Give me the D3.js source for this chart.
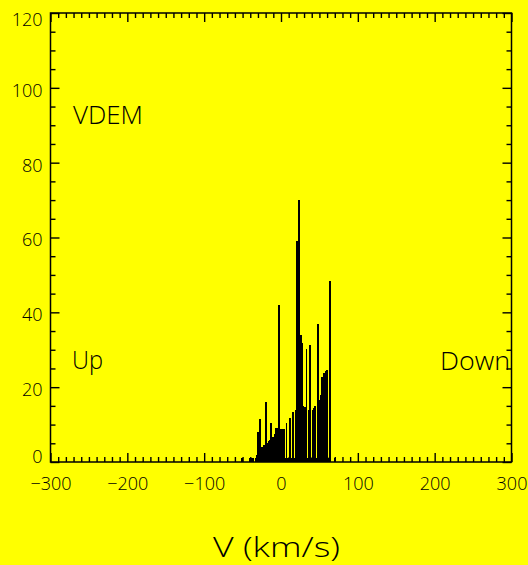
<!DOCTYPE html>
<html>
<head>
<meta charset="utf-8">
<script src="https://cdn.jsdelivr.net/npm/d3@7"></script>
<style>
  html, body { margin: 0; padding: 0; background: #ffff00; }
  svg { display: block; }
</style>
</head>
<body>
<script>
// Velocity axis (km/s) and count axis ticks
const velocityTicks = [-300, -200, -100, 0, 100, 200, 300];
const velocityMinorStep = 10;
const countTicks = [0, 20, 40, 60, 80, 100, 120];
const countMinorStep = 5;

// Velocity differential emission measure, one value per 1.3 km/s bin
const binStart = -53.3;   // left edge of the first bin, km/s
const binWidth = 1.3;     // km/s
const counts = [
  0, 1, 1, 0, 0, 0, 0, 0, 0, 1,
  1, 1, 1, 1, 0, 1, 2, 8, 8, 11.5,
  11.5, 4, 4, 4.5, 4.5, 16, 16, 5, 5.5, 6,
  10.5, 10.5, 6.8, 6.8, 7.5, 9, 9, 9, 42, 42,
  8.7, 8.7, 8.7, 8.7, 8.7, 1, 10.5, 1, 1, 11.8,
  11.8, 1, 13.4, 13.4, 1, 14, 59, 59, 70, 70,
  34, 34, 31.7, 15, 14.8, 14.8, 30.2, 1, 14, 31.2,
  31.2, 1, 13.9, 14.5, 15, 15, 1, 37, 37, 16.6,
  18, 22.8, 22.8, 23.9, 23.9, 24.2, 24.6, 24.6, 1, 48.4,
  48.4, 0, 0, 0, 1, 0
];

// Annotations inside the plot
const panelTitle = "VDEM";
const leftNote = "Up";
const rightNote = "Down";
const xTitle = "V (km/s)";

const W = 528, H = 565;
const FONT = "'Open Sans', 'Liberation Sans', Arial, sans-serif";
const WEIGHT = 300;

const svg = d3.select("body").append("svg")
  .attr("width", W).attr("height", H)
  .style("background", "#ffff00");

const x = d3.scaleLinear().domain([-300, 300]).range([50.5, 511.5]);
const y = d3.scaleLinear().domain([0, 120]).range([462, 13]);

// Histogram bins
const bins = counts.map((c, i) => ({ v0: binStart + i * binWidth, v1: binStart + (i + 1) * binWidth, c }));
svg.append("g")
  .attr("shape-rendering", "crispEdges")
  .selectAll("rect")
  .data(bins.filter(d => d.c > 0))
  .join("rect")
  .attr("x", d => x(d.v0))
  .attr("width", d => x(d.v1) - x(d.v0))
  .attr("y", d => y(d.c))
  .attr("height", d => y(0) - y(d.c))
  .attr("fill", "#000");

// Minor tick values
const xMinor = d3.range(-300, 300 + 1e-9, velocityMinorStep).filter(v => !velocityTicks.includes(v));
const yMinor = d3.range(0, 120 + 1e-9, countMinorStep).filter(v => !countTicks.includes(v));

function styleAxis(g) {
  g.select(".domain").remove();
  g.selectAll(".tick line").attr("stroke", "#000").attr("stroke-width", 1.4);
  g.selectAll("text").attr("fill", "#000").attr("font-family", FONT)
    .attr("font-weight", WEIGHT).attr("font-size", 18);
}

const MAJ = 9, MIN = 5;

// Bottom axis
svg.append("g").attr("transform", `translate(0,${y(0)})`)
  .call(d3.axisBottom(x).tickValues(xMinor).tickSize(-MIN).tickSizeOuter(0).tickFormat(""))
  .call(styleAxis);
svg.append("g").attr("transform", `translate(0,${y(0)})`)
  .call(d3.axisBottom(x).tickValues(velocityTicks).tickSize(-MAJ).tickSizeOuter(0).tickPadding(15)
        .tickFormat(d3.format("d")))
  .call(styleAxis);

// Top axis
svg.append("g").attr("transform", `translate(0,${y(120)})`)
  .call(d3.axisTop(x).tickValues(xMinor).tickSize(-MIN).tickSizeOuter(0).tickFormat(""))
  .call(styleAxis);
svg.append("g").attr("transform", `translate(0,${y(120)})`)
  .call(d3.axisTop(x).tickValues(velocityTicks).tickSize(-MAJ).tickSizeOuter(0).tickFormat(""))
  .call(styleAxis);

// Left axis
svg.append("g").attr("transform", `translate(${x(-300)},0)`)
  .call(d3.axisLeft(y).tickValues(yMinor).tickSize(-MIN).tickSizeOuter(0).tickFormat(""))
  .call(styleAxis);
const yl = svg.append("g").attr("transform", `translate(${x(-300)},0)`)
  .call(d3.axisLeft(y).tickValues(countTicks).tickSize(-MAJ).tickSizeOuter(0).tickPadding(8)
        .tickFormat(d3.format("d")))
  .call(styleAxis);
yl.selectAll("text").attr("dy", d => d === 0 ? "0em" : (d === 120 ? "0.72em" : "0.47em"));

// Right axis
svg.append("g").attr("transform", `translate(${x(300)},0)`)
  .call(d3.axisRight(y).tickValues(yMinor).tickSize(-MIN).tickSizeOuter(0).tickFormat(""))
  .call(styleAxis);
svg.append("g").attr("transform", `translate(${x(300)},0)`)
  .call(d3.axisRight(y).tickValues(countTicks).tickSize(-MAJ).tickSizeOuter(0).tickFormat(""))
  .call(styleAxis);

// Plot frame
svg.append("rect")
  .attr("x", x(-300)).attr("y", y(120))
  .attr("width", x(300) - x(-300)).attr("height", y(0) - y(120))
  .attr("fill", "none").attr("stroke", "#000").attr("stroke-width", 1.5);

// Annotations
function note(text, px, py, size, len, anchor) {
  svg.append("text").text(text)
    .attr("x", px).attr("y", py)
    .attr("text-anchor", anchor || "start")
    .attr("font-family", FONT).attr("font-weight", WEIGHT).attr("font-size", size)
    .attr("textLength", len).attr("lengthAdjust", "spacingAndGlyphs").attr("fill", "#000");
}
note(panelTitle, 73, 123.5, 25, 70);
note(leftNote, 72, 369, 25, 31);
note(rightNote, 440, 370, 25, 70);
note(xTitle, 276.5, 557, 27, 127, "middle");
</script>
</body>
</html>
